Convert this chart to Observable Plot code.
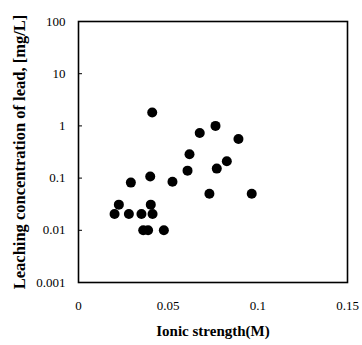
<!DOCTYPE html>
<html>
<head>
<meta charset="utf-8">
<script src="https://cdn.jsdelivr.net/npm/d3@7"></script>
<script src="https://cdn.jsdelivr.net/npm/@observablehq/plot@0.6"></script>
<style>
  html, body { margin: 0; padding: 0; background: #fff; }
  svg { font-family: "Liberation Serif", "DejaVu Serif", serif; }
</style>
</head>
<body>
<div id="chart"></div>
<script>
const ionicStrength = [0.0411, 0.0764, 0.0676, 0.0892, 0.0619, 0.0827, 0.0771, 0.0608, 0.0400, 0.0524, 0.0292,
  0.0730, 0.0966, 0.0225, 0.0403, 0.0201, 0.0281, 0.0351, 0.0413, 0.0361, 0.0388, 0.0476];
const leadConc = [1.8, 1.0, 0.73, 0.56, 0.287, 0.21, 0.152, 0.139, 0.107, 0.085, 0.082,
  0.050, 0.050, 0.031, 0.031, 0.0206, 0.0206, 0.0206, 0.0206, 0.010, 0.010, 0.010];
const xTicks = [0, 0.05, 0.1, 0.15];
const yTicks = [0.001, 0.01, 0.1, 1, 10, 100];
const yTickLabels = ["0.001", "0.01", "0.1", "1", "10", "100"];
const xTitle = "Ionic strength(M)";
const yTitle = "Leaching concentration of lead, [mg/L]";

const data = ionicStrength.map((x, i) => ({x, y: leadConc[i]}));

const chart = Plot.plot({
  width: 362,
  height: 345,
  marginLeft: 78,
  marginRight: 15,
  marginTop: 21,
  marginBottom: 63,
  style: {fontSize: "13px", color: "#000", background: "#fff"},
  x: {domain: [0, 0.15]},
  y: {type: "log", domain: [0.001, 100]},
  marks: [
    Plot.frame({stroke: "#000", strokeWidth: 1.6}),
    Plot.axisX({ticks: xTicks, tickSize: 0, tickPadding: 18, tickFormat: d => String(d), label: null, fontSize: 13}),
    Plot.axisY({ticks: yTicks, tickSize: 0, tickPadding: 13, tickFormat: d => yTickLabels[yTicks.indexOf(d)], label: null, fontSize: 13}),
    Plot.tickY(yTicks, {y: d => d, stroke: "#000", strokeWidth: 1, insetRight: 265}),
    Plot.dot(data, {x: "x", y: "y", r: 5, fill: "#000", stroke: "none"}),
    Plot.text([xTitle], {frameAnchor: "bottom", dy: 53, fontSize: 15, fontWeight: "bold", fill: "#000"}),
    Plot.text([yTitle], {frameAnchor: "left", dx: -59, dy: 0, rotate: -90, textAnchor: "middle", lineAnchor: "middle", fontSize: 16.5, fontWeight: "bold", fill: "#000"})
  ]
});
document.getElementById("chart").appendChild(chart);
</script>
</body>
</html>
